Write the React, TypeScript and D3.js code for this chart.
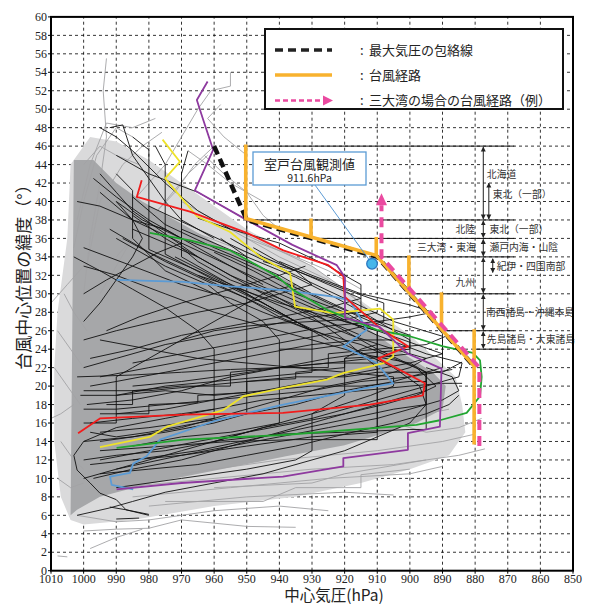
import React from "react";
import * as d3 from "d3";

type Pt = [number, number];

// axis ticks
const pressureTicks = [1010, 1000, 990, 980, 970, 960, 950, 940, 930, 920, 910, 900, 890, 880, 870, 860, 850];
const latTicks = [0, 2, 4, 6, 8, 10, 12, 14, 16, 18, 20, 22, 24, 26, 28, 30, 32, 34, 36, 38, 40, 42, 44, 46, 48, 50, 52, 54, 56, 58, 60];

// dense mass of past typhoon tracks (outline)
const denseCore: Pt[] = [
  [1003, 44.5], [997, 44.5], [990, 42], [982, 40], [972, 38], [962, 36], [952, 34], [942, 32.2],
  [932, 30.4], [922, 28.4], [912, 26], [902, 23.5], [893, 21.5], [889, 20],
  [890, 17.5], [898, 16], [908, 14.9], [920, 13.6], [938, 12.4], [959, 10.9], [979, 9.5], [995, 8], [1002, 6.6], [1004, 6],
];
const sparseFringe: Pt[] = [
  [1008, 28], [1005, 36], [1004, 44], [998, 47], [990, 46.5], [980, 44.5], [970, 42], [960, 39.5], [950, 37],
  [940, 35], [930, 33], [920, 30.5], [910, 28], [900, 25.5], [892, 23], [886, 21], [884, 18], [883, 15],
  [888, 12.5], [900, 11], [915, 9.5], [935, 8], [960, 7], [985, 5.5], [1000, 5], [1004, 5.5], [1007, 8], [1009, 14], [1009, 22],
];

const grayTracks: Pt[][] = [
  [[1000, 30], [998, 36], [995, 42], [993, 47], [994, 52], [993, 55.5]],
  [[1003, 35], [1000, 40], [996, 45], [990, 48], [985, 47]],
  [[1002, 38], [998, 44], [993, 48.5], [985, 48], [978, 49]],
  [[999, 33], [995, 40], [988, 44], [982, 46], [976, 47.5]],
  [[1010, 29], [1005, 31], [1000, 33]],
  [[955, 54], [955, 52.5], [961, 52], [965, 50], [970, 47], [975, 44], [985, 40]],
  [[950, 45], [957, 47], [962, 49], [958, 50.5]],
  [[945, 40], [955, 42], [962, 44], [968, 45.5]],
  [[963, 45], [957, 43], [950, 41], [945, 38.5], [940, 37]],
  [[960, 38], [945, 35.5], [930, 33], [920, 30.5], [912, 28]],
  [[970, 40], [955, 37], [940, 34], [925, 31.5], [915, 29]],
  [[950, 36], [935, 34], [925, 32.5], [915, 30.5]],
  [[965, 36.5], [950, 34.5], [938, 33]],
  [[1002, 6], [990, 5.3], [980, 5.5], [960, 6.5], [940, 7], [925, 6.5]],
  [[1000, 4.3], [990, 4.5], [980, 4.6], [970, 5.5], [950, 4.8], [935, 4.7]],
  [[998, 2.4], [990, 3.6], [982, 4.5]],
  [[1008, 1.6], [1005, 1.5]],
  [[990, 9], [960, 10], [930, 11], [905, 11.5], [885, 12.5], [877, 13.2]],
  [[985, 8], [955, 9], [925, 10], [900, 10.5], [890, 11.3]],
  [[980, 7], [950, 8], [920, 8.5], [905, 8.2]],
  [[975, 7.5], [945, 7.5], [935, 9], [915, 9], [915, 10.4], [900, 11]],
  [[970, 10.5], [940, 12], [910, 13], [890, 14], [880, 14.8]],
  [[960, 9], [930, 9.5], [920, 10.5], [895, 12]],
  [[1009, 22], [1005, 20], [1001, 18]],
  [[1008, 26], [1004, 24], [1000, 22]],
  [[1007, 14], [1003, 12], [1000, 11]],
  [[1006, 30], [1003, 28], [999, 26]],
  [[1008, 10], [1004, 9], [1000, 9.5]],
  [[995, 30], [985, 36], [975, 40], [968, 43], [962, 45]],
  [[990, 34], [980, 38], [972, 41], [966, 44], [960, 46]],
  [[1000, 44], [995, 46], [990, 45], [983, 44]],
  [[905, 16], [895, 15], [885, 15.5], [878, 16.5]],
  [[910, 17.5], [895, 17], [888, 17.5]],
  [[1003, 18], [1007, 17], [1010, 16.5]],
];

const blackTracks: Pt[][] = [
  [[1002, 6], [992, 6.8], [985, 7.5], [975, 8.5], [960, 9.5], [945, 10.5], [930, 12], [920, 13], [910, 14.5], [900, 16], [895, 18], [897, 20], [905, 22], [920, 24.5], [935, 27], [950, 29.5], [965, 32], [980, 34.5], [992, 37]],
  [[1000, 12], [990, 12.5], [975, 13], [960, 14], [945, 15.5], [930, 16.5], [915, 18], [900, 19.5], [885, 21], [884, 22.5], [895, 23.5], [910, 25.5], [925, 28], [940, 30.5], [955, 33], [970, 35.5], [985, 38], [995, 41]],
  [[998, 15], [990, 14.5], [980, 15], [965, 16], [950, 17], [935, 18], [920, 19.5], [905, 20.5], [890, 22], [890, 25.4], [905, 27], [920, 29.5], [935, 32], [950, 34.5], [965, 37], [980, 39.5]],
  [[995, 17], [980, 17], [980, 18], [965, 18.2], [965, 19], [950, 19.3], [950, 20.5], [935, 20.8], [935, 21.5], [920, 22], [920, 23], [910, 23.2], [910, 26], [920, 27], [930, 28.5], [940, 30], [950, 31.5], [950, 34], [960, 35.5], [970, 37]],
  [[990, 11], [970, 12.5], [950, 13.5], [930, 14.5], [910, 15], [910, 22], [920, 25], [930, 27.5], [945, 30], [960, 33], [975, 36], [985, 38.5]],
  [[995, 14], [975, 15], [960, 16], [950, 17], [950, 38], [965, 41], [980, 43], [990, 45]],
  [[999, 18], [985, 18.5], [970, 19.5], [955, 21], [940, 22], [925, 23], [915, 23.5], [900, 24], [900, 25.5], [912, 27], [925, 29], [940, 31.5], [955, 34], [970, 36], [982, 38], [990, 40]],
  [[997, 10], [985, 11], [970, 12], [955, 13.5], [940, 15], [925, 16.5], [915, 17.5], [905, 18.5], [895, 19.5], [895, 21.5], [905, 23], [915, 24.5], [930, 26], [945, 28], [955, 29.5], [970, 31], [985, 33], [1000, 35]],
  [[960, 36], [970, 38], [975, 40], [980, 42.5], [985, 45], [988, 48.3], [992, 48]],
  [[965, 34], [975, 36.5], [985, 39], [990, 41], [995, 43]],
  [[935, 27], [950, 30], [965, 32.5], [980, 34.8], [980, 45.6], [985, 47]],
  [[930, 26], [945, 29], [960, 31.5], [975, 34.3], [975, 44], [978, 46]],
  [[925, 25], [940, 28], [955, 31], [970, 34], [970, 43], [968, 45.5]],
  [[960, 30], [975, 32.5], [985, 36], [985, 41.2], [990, 43]],
  [[980, 6], [987, 6.6], [990, 7.7], [995, 8.4], [998, 9.5], [1002, 10.9], [1003, 12.5], [1000, 14], [990, 15.5], [975, 16.5], [960, 17.5]],
  [[992, 6.9], [987, 6.6], [980, 6.1]],
  [[990, 5.6], [983, 5.7]],
  [[998, 20], [990, 20.5], [975, 21.5], [960, 22.5], [945, 23.5], [930, 24.5], [915, 25], [905, 25], [905, 26.5], [918, 28], [930, 30], [940, 32], [950, 33.5], [960, 35], [975, 37.5], [985, 40.5]],
  [[995, 12], [980, 13], [965, 14], [950, 15], [935, 16], [920, 17], [908, 18], [898, 19], [892, 20], [898, 22], [910, 24], [920, 26], [930, 28], [940, 29.5], [955, 31.5], [965, 33.5], [970, 35], [970, 38]],
  [[1000, 10], [985, 11.5], [970, 13], [955, 14.5], [940, 16], [925, 17.5], [912, 19], [905, 20], [905, 21], [920, 21.5], [935, 22], [950, 22.5], [965, 23], [980, 24], [995, 25]],
  [[1002, 21], [985, 21.2], [970, 21.5], [955, 21.8], [940, 22], [925, 22.5], [910, 22.5]],
  [[1000, 19.5], [980, 19.5], [965, 20], [950, 20.5], [935, 21], [920, 21], [910, 21.5], [890, 21.5], [884, 22.6]],
  [[998, 16], [985, 16.5], [970, 17], [960, 17.5], [945, 18.5], [930, 19], [915, 19.5], [900, 20], [890, 20.3], [884, 20.3]],
  [[995, 15], [980, 15.5], [960, 16.5], [960, 24], [965, 26], [975, 28.5], [985, 30.5], [995, 32.5], [1003, 34]],
  [[995, 13], [975, 13.5], [955, 14], [935, 14.2], [910, 14.2], [910, 26], [920, 28], [935, 30], [948, 32.5], [960, 34.5]],
  [[990, 9], [970, 10], [950, 11], [935, 12], [930, 13], [930, 17], [925, 18], [920, 19], [920, 23], [915, 24], [910, 24.5]],
  [[985, 13.5], [970, 14.5], [955, 15], [940, 16], [940, 25], [945, 27], [955, 29], [962, 31], [975, 33], [990, 36]],
  [[1000, 16], [990, 16], [990, 21], [985, 22], [975, 24], [965, 26], [955, 28], [945, 30], [935, 31]],
  [[985, 12], [965, 13], [945, 14.5], [925, 16], [905, 17.5], [895, 18], [895, 21.5], [900, 22.5], [915, 23.5], [930, 25], [945, 26.5], [960, 28], [975, 30], [990, 32], [1000, 33]],
  [[1000, 22], [990, 23], [975, 24.5], [960, 25.5], [945, 26.5], [930, 27.5], [915, 28], [915, 31], [925, 33], [940, 35.5], [955, 37], [965, 38.2]],
  [[985, 20], [970, 20.5], [955, 21.2], [940, 22], [925, 22.5], [912, 23], [900, 23.5], [900, 25], [905, 26], [912, 27.5], [925, 30], [935, 31.8], [950, 34], [958, 36]],
  [[955, 37], [965, 39], [975, 42], [985, 45.5], [990, 47], [995, 48]],
  [[970, 36], [980, 38], [990, 40.5], [997, 42.5]],
  [[945, 31], [955, 33], [965, 35], [975, 37], [985, 38], [995, 39.5], [1002, 40]],
  [[998, 11.5], [985, 12], [970, 12.5], [955, 13.5], [940, 14.5], [925, 15.5], [910, 16.5], [900, 17.5], [890, 18.5], [885, 19.5], [887, 21], [895, 22]],
  [[993, 18], [985, 18], [985, 19.5], [970, 20], [955, 20], [955, 21.5], [940, 22], [925, 22], [925, 23.5], [910, 24], [895, 24.5], [889, 25.4]],
  [[1001, 19], [990, 19], [975, 19.5], [960, 19], [945, 19.5], [930, 20], [915, 20], [900, 20.5], [895, 20.5]],
  [[1000, 30], [993, 31.5], [985, 33], [977, 34.5], [970, 35.5]],
  [[1000, 27], [995, 29], [990, 31.5], [985, 34], [982, 36], [985, 38], [990, 40]],
  [[1000, 14], [985, 14.5], [970, 15.5], [955, 17], [940, 18.5], [925, 20], [910, 21], [900, 22], [895, 23], [905, 24], [918, 25.5], [932, 27.5], [945, 29.5], [958, 31.5], [972, 34]],
  [[990, 17], [975, 17.5], [960, 18.5], [945, 19.5], [930, 20.5], [915, 21.5], [900, 22.5], [890, 23.5], [898, 24.5], [910, 26], [925, 27.5], [940, 29], [952, 30.5], [965, 32]],
  [[995, 21], [980, 22], [965, 23], [950, 24], [935, 25], [920, 26], [908, 27], [908, 29], [920, 30.5], [935, 32.5], [945, 34], [955, 36]],
  [[998, 23], [985, 24], [970, 25.5], [955, 26.5], [940, 27.5], [925, 28.5], [915, 29.5], [925, 31], [938, 33], [948, 35]],
  [[1000, 25], [990, 26], [978, 27], [965, 28], [950, 29], [940, 30], [930, 31], [935, 32.5], [945, 33.5]],
  [[990, 19], [975, 20], [960, 20.5], [945, 21], [930, 21.5], [930, 26], [940, 27.5], [950, 29.5], [960, 31], [975, 33.5], [988, 36]],
  [[985, 22.5], [970, 23.5], [955, 24.5], [940, 25.5], [925, 26.5], [910, 27], [900, 27.5], [893, 28], [900, 28.8], [915, 30], [930, 32], [940, 33.5]],
  [[1000, 17.5], [990, 17.5], [975, 18], [960, 18.5], [945, 19], [930, 19.5], [915, 20.5], [900, 21], [887, 21.8]],
  [[995, 10.5], [980, 11], [965, 11.5], [950, 12.5], [935, 13.5], [920, 14.8], [905, 16], [895, 17], [888, 18], [885, 19]],
  [[993, 26], [983, 27.5], [970, 29], [960, 30], [950, 31], [940, 32], [932, 33]],
  [[940, 24], [930, 24], [920, 24.5], [915, 25.5], [925, 27], [935, 28.5], [945, 30.5], [955, 32], [965, 34], [975, 35.5], [985, 37]],
  [[970, 25], [960, 26], [950, 26.5], [940, 26.8], [930, 27], [920, 27.2], [910, 28]],
  [[960, 14], [940, 14.8], [920, 15], [900, 15.3], [895, 15.3], [895, 21.5]],
];

// highlighted tracks
const blueTrack: Pt[] = [[984.8, 8.8], [991.4, 9.3], [991.9, 10.2], [985.8, 10.6], [984.8, 11.6], [980.7, 12.4], [976.6, 14.2], [959.2, 16.3], [938.8, 18], [913.2, 19.8], [905.1, 20.3], [910.2, 22.5], [920.4, 24.3], [913.2, 26.1], [918.4, 29.3], [923.5, 29.7], [938.8, 30.4], [955.1, 30.8], [969.4, 31.3], [989.9, 31.5]];
const yellowTrack: Pt[] = [[995, 13.4], [979.7, 14.5], [974.5, 15.6], [957.2, 17.4], [951, 18.9], [938.8, 19.8], [925.5, 20.7], [920.5, 21.4], [908, 22.5], [905.1, 23.2], [905.1, 27.2], [909.2, 28.4], [923.5, 27.9], [935.2, 28.6], [936.7, 32.2], [945.9, 34], [955.1, 36.7], [965.3, 38.4], [975, 42.5], [970.5, 44.3], [975.8, 46.7]];
const greenTrack: Pt[] = [[989.9, 13.3], [969.4, 14.2], [938.9, 14.7], [898, 15.8], [890.8, 16.3], [882.6, 17.1], [878.5, 18.9], [878, 21], [878.5, 22.8], [880.7, 23.6], [889.8, 24.3], [900, 25.4], [910.2, 26.1], [925, 28.2], [935.7, 30.4], [940.8, 31.9], [955.1, 34.7], [967.4, 35.8], [979.7, 36.6]];
const redTrack: Pt[] = [[1001.7, 14.9], [995, 16.5], [969.5, 16.9], [938.9, 17.1], [912.2, 18], [896, 19], [895.4, 20.3], [909.7, 23], [900.5, 24.3], [909.2, 26.3], [920, 29.7], [920.4, 31.9], [925, 33.1], [938.8, 34.7], [950, 36.6], [967.4, 38.9], [983.7, 40.5], [982.2, 42.3]];
const purpleTrack: Pt[] = [[989.9, 8.8], [970, 9.5], [938.9, 10.2], [920.4, 11.3], [920.4, 12.2], [900.6, 13.1], [900.6, 14.9], [890.8, 15.6], [890.3, 21.9], [900.6, 23.5], [909.2, 26.4], [919.9, 27.4], [919.9, 31.8], [922.4, 33.1], [936, 35.3], [951, 38.2], [965.9, 41.2], [960.3, 45.6], [963.3, 48.8], [965.3, 51], [962, 53]];

// envelope of maximum pressure and design typhoon path
const maxEnvelope: Pt[] = [[960, 46], [950, 38], [930, 36], [910, 34], [900, 30], [890, 26], [880, 22]];
const typhoonPath: Pt[] = [[950, 46], [950, 38], [930, 36], [910, 34], [900, 30], [890, 26], [880, 22], [880, 13.5]];
const pathSteps: [number, number, number][] = [[930, 38, 36], [910, 36, 34], [900, 34, 30], [890, 30, 26], [880, 26, 22]];
const bayPath: Pt[] = [[878.7, 13.5], [878.7, 22], [888.7, 26], [898.7, 30], [908.7, 34], [908.7, 39.6]];
const bayArrowTip = 40.9;

// region boundaries: [latitude, pressure where the line starts]
const boundaries: Pt[] = [[46, 950], [38, 950], [36, 930], [34, 910], [30, 900], [26, 890], [24, 880]];
const boundaryEnd = 868;
// double arrows: [pressure, lat from, lat to]
const regionArrows: [number, number, number][] = [[877.5, 46, 38], [875.8, 42.1, 38], [877.5, 38, 36], [877.5, 36, 34], [877.5, 34, 30], [874.6, 33.9, 32.2], [877.5, 30, 26], [877.5, 26, 24]];
const regionLabels: { text: string; p: number; lat: number; anchor: string }[] = [
  { text: "北海道", p: 876.4, lat: 42.9, anchor: "start" },
  { text: "東北（一部）", p: 874.6, lat: 40.7, anchor: "start" },
  { text: "北陸", p: 880, lat: 37, anchor: "end" },
  { text: "東北（一部）", p: 875.6, lat: 37, anchor: "start" },
  { text: "三大湾・東海", p: 879.8, lat: 35, anchor: "end" },
  { text: "瀬戸内海・山陰", p: 875.6, lat: 35, anchor: "start" },
  { text: "紀伊・四国南部", p: 873.4, lat: 33, anchor: "start" },
  { text: "九州", p: 880, lat: 31.2, anchor: "end" },
  { text: "南西諸島・沖縄本島", p: 876.7, lat: 28, anchor: "start" },
  { text: "先島諸島・大東諸島", p: 876.4, lat: 25, anchor: "start" },
];

const murotoObs: Pt = [911.6, 33.25];

const legendItems = ["最大気圧の包絡線", "台風経路", "三大湾の場合の台風経路（例）"];

const W = 591;
const H = 605;
const x = d3.scaleLinear().domain([1010, 850]).range([51, 573]);
const y = d3.scaleLinear().domain([0, 60]).range([570.7, 16.9]);
const line = d3.line<Pt>().x((d) => x(d[0])).y((d) => y(d[1]));
const area = d3.line<Pt>().x((d) => x(d[0])).y((d) => y(d[1])).curve(d3.curveLinearClosed);

const JP = "'Noto Sans CJK JP', 'Noto Sans', sans-serif";
const SERIF = "'Liberation Serif', 'DejaVu Serif', serif";

export default function App() {
  const tipX = x(bayPath[bayPath.length - 1][0]);
  return (
    <svg width={W} height={H} style={{ position: "absolute", left: 0, top: 0, background: "#fff" }}>
      <defs>
        <marker id="ah" viewBox="0 0 10 10" refX="9" refY="5" markerWidth="5" markerHeight="6" orient="auto-start-reverse" markerUnits="userSpaceOnUse">
          <path d="M0,0 L10,5 L0,10 z" fill="#222" />
        </marker>
        <clipPath id="plot">
          <rect x={x(1010)} y={y(60)} width={x(850) - x(1010)} height={y(0) - y(60)} />
        </clipPath>
      </defs>
      <rect width={W} height={H} fill="#fff" />

      {/* grid */}
      <g stroke="#000" strokeWidth={0.8} strokeDasharray="3,3">
        {pressureTicks.slice(1, -1).map((p) => (
          <line key={"gx" + p} x1={x(p)} x2={x(p)} y1={y(0)} y2={y(60)} />
        ))}
        {latTicks.slice(1, -1).map((l) => (
          <line key={"gy" + l} x1={x(1010)} x2={x(850)} y1={y(l)} y2={y(l)} />
        ))}
      </g>

      <g clipPath="url(#plot)">
        <path d={area(sparseFringe) || ""} fill="#dadadb" />
        <path d={area(denseCore) || ""} fill="#a6a7a9" />
        <g fill="none" stroke="#a3a3a5" strokeWidth={0.9}>
          {grayTracks.map((t, i) => (
            <path key={"g" + i} d={line(t) || ""} />
          ))}
        </g>
        <g fill="none" stroke="#111" strokeWidth={0.9}>
          {blackTracks.map((t, i) => (
            <path key={"b" + i} d={line(t) || ""} />
          ))}
        </g>
        <g fill="none" strokeWidth={1.8} strokeLinejoin="round">
          <path d={line(blueTrack) || ""} stroke="#5b9bd5" />
          <path d={line(yellowTrack) || ""} stroke="#eee22a" />
          <path d={line(greenTrack) || ""} stroke="#21a530" />
          <path d={line(redTrack) || ""} stroke="#f21c1c" />
          <path d={line(purpleTrack) || ""} stroke="#8e3a9f" />
        </g>
      </g>

      {/* region boundaries */}
      <g stroke="#111" strokeWidth={1}>
        {boundaries.map(([lat, p]) => (
          <line key={"rb" + lat} x1={x(p)} x2={x(boundaryEnd)} y1={y(lat)} y2={y(lat)} />
        ))}
      </g>
      <g stroke="#222" strokeWidth={1}>
        {regionArrows.map(([p, a, b], i) => (
          <line key={"ra" + i} x1={x(p)} x2={x(p)} y1={y(a) + 1} y2={y(b) - 1} markerStart="url(#ah)" markerEnd="url(#ah)" />
        ))}
      </g>
      <g style={{ fontFamily: JP }} fontSize={9.8} fill="#333">
        {regionLabels.map((r, i) => (
          <text key={"rl" + i} x={x(r.p)} y={y(r.lat)} dy="0.35em" textAnchor={r.anchor}>
            {r.text}
          </text>
        ))}
      </g>

      {/* envelope & path */}
      <path d={line(maxEnvelope) || ""} fill="none" stroke="#111" strokeWidth={4.5} strokeDasharray="9,5" />
      <g transform="translate(-1,-1.5)">
        <path d={line(typhoonPath) || ""} fill="none" stroke="#f8b22e" strokeWidth={3.6} strokeLinejoin="round" />
        {pathSteps.map(([p, a, b]) => (
          <line key={"ps" + p} x1={x(p)} x2={x(p)} y1={y(a)} y2={y(b)} stroke="#f8b22e" strokeWidth={3.6} />
        ))}
      </g>
      <path d={line(bayPath) || ""} fill="none" stroke="#ea4aa0" strokeWidth={4} strokeDasharray="10,6" />
      <path
        d={`M${tipX},${y(bayArrowTip)} L${tipX - 5.5},${y(bayPath[bayPath.length - 1][1])} L${tipX + 5.5},${y(bayPath[bayPath.length - 1][1])} Z`}
        fill="#ea4aa0"
      />

      {/* Muroto observation */}
      <line x1={315} y1={185} x2={x(murotoObs[0])} y2={y(murotoObs[1])} stroke="#4a90d0" strokeWidth={0.9} />
      <rect x={253} y={152} width={113} height={33} fill="#fff" stroke="#5b9bd5" strokeWidth={1.3} />
      <text x={309.5} y={169} textAnchor="middle" style={{ fontFamily: JP }} fontSize={13} fill="#222">室戸台風観測値</text>
      <text x={309.5} y={182} textAnchor="middle" style={{ fontFamily: JP }} fontSize={10.5} fill="#222">911.6hPa</text>
      <circle cx={x(murotoObs[0])} cy={y(murotoObs[1])} r={5.3} fill="#45b6ea" stroke="#2a78c2" strokeWidth={1.3} />

      {/* legend */}
      <rect x={265} y={29} width={298} height={80} fill="#fff" stroke="#111" strokeWidth={2} />
      <line x1={275} x2={332} y1={50} y2={50} stroke="#222" strokeWidth={3.5} strokeDasharray="8,5" />
      <line x1={275} x2={332} y1={75} y2={75} stroke="#f8b22e" strokeWidth={3.5} />
      <line x1={275} x2={323} y1={100.5} y2={100.5} stroke="#ea4aa0" strokeWidth={2.5} strokeDasharray="5,3" />
      <path d="M323,95.5 L333,100.5 L323,105.5 Z" fill="#ea4aa0" />
      <g style={{ fontFamily: JP }} fontSize={13} fill="#222">
        {legendItems.map((t, i) => (
          <g key={"lg" + i}>
            <text x={360} y={54.5 + i * 25.3}>:</text>
            <text x={369} y={54.5 + i * 25.3}>{t}</text>
          </g>
        ))}
      </g>

      {/* frame and outer ticks */}
      <rect x={x(1010)} y={y(60)} width={x(850) - x(1010)} height={y(0) - y(60)} fill="none" stroke="#000" strokeWidth={2} />
      <g stroke="#000" strokeWidth={1}>
        {latTicks.map((l) => (
          <line key={"ty" + l} x1={x(1010) - 3} x2={x(1010)} y1={y(l)} y2={y(l)} />
        ))}
        {pressureTicks.map((p) => (
          <line key={"tx" + p} x1={x(p)} x2={x(p)} y1={y(0)} y2={y(0) + 3} />
        ))}
      </g>

      {/* tick labels */}
      <g style={{ fontFamily: SERIF }} fontSize={12} fill="#222">
        {latTicks.map((l) => (
          <text key={"yl" + l} x={47} y={y(l)} dy="0.35em" textAnchor="end">{l}</text>
        ))}
        {pressureTicks.map((p) => (
          <text key={"xl" + p} x={x(p)} y={582.5} textAnchor="middle">{p}</text>
        ))}
      </g>
      <text x={334} y={600.5} textAnchor="middle" style={{ fontFamily: JP }} fontSize={15.5} fill="#222">中心気圧(hPa)</text>
      <text transform="translate(24,273) rotate(-90)" textAnchor="middle" dy="0.35em" style={{ fontFamily: JP }} fontSize={17} fill="#222">
        台風中心位置の緯度（°）
      </text>
    </svg>
  );
}
